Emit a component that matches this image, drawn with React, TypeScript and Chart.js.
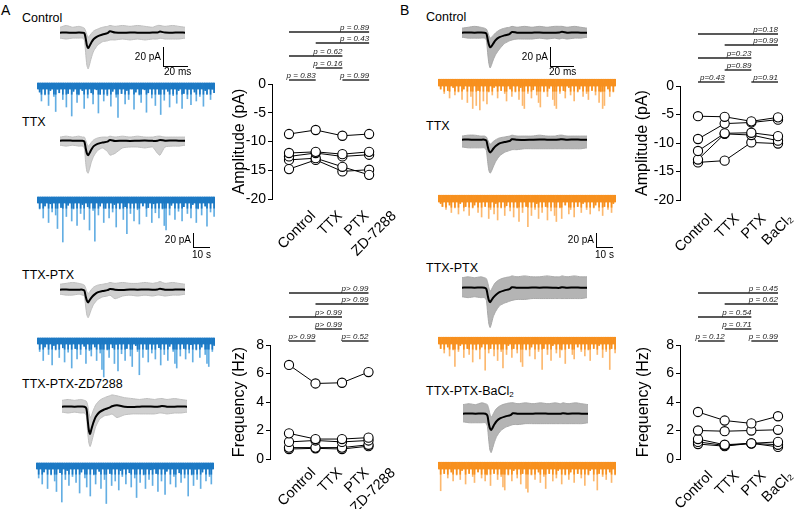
import React, { useEffect, useRef, useState } from "react";
import { Chart, registerables } from "chart.js";

Chart.register(...registerables);

const FONT = "'Liberation Sans', Arial, Helvetica, sans-serif";
Chart.defaults.font.family = FONT;
Chart.defaults.color = "#000";

// ---------------- summary plots data ----------------
const CATS_A = ["Control", "TTX", "PTX", "ZD-7288"];
const CATS_B = ["Control", "TTX", "PTX", "BaCl\u2082"];
const AMP_TICKS = [0, -5, -10, -15, -20];
const FREQ_TICKS = [0, 2, 4, 6, 8];

const AMP_A_CELLS = [
  [-8.7, -8.0, -9.0, -8.7],
  [-12.0, -11.8, -12.2, -11.8],
  [-12.6, -12.0, -12.6, -12.3],
  [-13.2, -12.9, -14.4, -15.8],
  [-14.8, -13.2, -15.2, -14.9],
];
const FREQ_A_CELLS = [
  [6.6, 5.3, 5.35, 6.1],
  [1.8, 1.4, 1.4, 1.5],
  [1.2, 1.3, 1.2, 1.3],
  [0.8, 0.8, 0.8, 1.0],
  [0.7, 0.75, 0.7, 0.9],
];
const AMP_B_CELLS = [
  [-5.3, -5.4, -6.2, -5.5],
  [-9.3, -6.6, -6.4, -5.9],
  [-11.4, -8.3, -8.2, -8.8],
  [-12.9, -8.4, -8.6, -9.6],
  [-13.4, -13.1, -9.9, -10.1],
];
const FREQ_B_CELLS = [
  [3.3, 2.7, 2.5, 3.0],
  [2.0, 1.95, 2.0, 2.05],
  [1.4, 1.0, 1.1, 1.2],
  [1.2, 0.95, 1.1, 1.0],
  [1.05, 0.9, 1.1, 0.85],
];

const BRACKET_PAIRS = [[0, 3], [1, 3], [0, 2], [1, 2], [0, 1], [2, 3]];
const P_AMP_A = ["p = 0.89", "p = 0.43", "p = 0.62", "p = 0.16", "p = 0.83", "p = 0.99"];
const P_FREQ_A = ["p> 0.99", "p> 0.99", "p> 0.99", "p> 0.99", "p> 0.99", "p= 0.52"];
const P_AMP_B = ["p=0.18", "p=0.99", "p=0.23", "p=0.89", "p=0.43", "p=0.91"];
const P_FREQ_B = ["p = 0.45", "p = 0.62", "p = 0.54", "p = 0.71", "p = 0.12", "p = 0.99"];

// ---------------- averaged sEPSC waveforms (ms, pA) ----------------
const WF_T = [0, 5, 10, 15, 18, 19.5, 20.5, 21.5, 22.5, 23.5, 25, 27, 30, 34, 38, 40, 44, 50, 56, 62, 68, 74, 78, 80, 84, 90, 95, 100];

const WF_A1_MEAN = [0, 0.3, -0.2, 0.2, 0, -0.5, -6, -14, -17, -15, -11, -7, -4, -2, -0.5, 1.5, 0.2, -0.2, 0.3, 0, -0.2, 0.1, 0.2, 1.2, 0.1, 0, 0.2, 0];
const WF_A1_HI = [6, 8, 6, 7, 6, 5, 2, -2, -5, -4, -1, 2, 4, 6, 7, 8, 7, 8, 7, 8, 7, 6, 8, 8, 7, 8, 7, 6];
const WF_A1_LO = [-6, -7, -6, -6, -6, -8, -22, -36, -40, -36, -28, -20, -14, -10, -9, -8, -8, -7, -8, -7, -8, -7, -7, -6, -7, -7, -7, -6];

const WF_A2_MEAN = [0, 0.2, 0, -0.2, 0, -1, -8, -14, -16, -14, -10, -6, -3.5, -2, -1, 0.8, -0.3, 0, -0.3, 0, 0.2, -0.2, 0, 0.8, 0, 0.2, 0, 0];
const WF_A2_HI = [4, 5, 4, 5, 4, 4, 1, -3, -6, -5, -2, 1, 3, 4, 4, 5, 4, 5, 4, 5, 4, 4, 5, 5, 4, 4, 4, 4];
const WF_A2_LO = [-5, -6, -5, -6, -6, -8, -24, -34, -36, -32, -24, -17, -11, -8, -12, -16, -14, -8, -7, -7, -8, -7, -14, -16, -7, -6, -6, -5];

const WF_A3_MEAN = [0, 0.2, -0.2, 0, 0, -1, -7, -12, -14, -12, -9, -6, -3, -1.5, -0.5, 0.8, 0, -0.3, 0.2, 0, 0.2, 0, 0.3, 1, 0, 0, 0.2, 0];
const WF_A3_HI = [6, 7, 8, 7, 6, 5, 2, -2, -4, -3, 0, 3, 5, 6, 7, 8, 7, 8, 7, 7, 8, 7, 8, 9, 7, 8, 7, 6];
const WF_A3_LO = [-5, -6, -6, -5, -6, -7, -18, -28, -31, -28, -22, -16, -11, -8, -7, -6, -10, -7, -6, -7, -6, -7, -6, -6, -7, -6, -6, -5];

const WF_A4_MEAN = [0, 0.3, 0, 0.2, 0, -2, -14, -26, -30, -25, -18, -11, -6, -3, -1, 0.5, 1.5, 0, -0.3, 0, 0.3, 0, 0.2, 0.8, 0, 0, 0.3, 0];
const WF_A4_HI = [7, 8, 7, 8, 7, 6, 2, -6, -12, -10, -4, 2, 7, 10, 12, 13, 12, 10, 9, 8, 9, 8, 9, 9, 8, 9, 8, 7];
const WF_A4_LO = [-6, -7, -6, -7, -7, -10, -28, -40, -44, -40, -32, -22, -14, -10, -9, -8, -12, -9, -8, -8, -8, -8, -7, -7, -8, -7, -7, -6];

const WF_B1_MEAN = [0, 0.2, 0, 0.2, 0, -1, -7, -13, -16, -15, -12, -8, -5, -3, -1.5, 0.8, 0, -0.2, 0, 0.2, -0.2, 0, 0.2, 1, 0, 0.2, 0, 0];
const WF_B1_HI = [5, 6, 7, 6, 5, 4, 1, -3, -6, -5, -3, 0, 3, 5, 6, 7, 6, 7, 6, 7, 6, 7, 7, 7, 6, 7, 6, 5];
const WF_B1_LO = [-5, -6, -6, -6, -6, -8, -22, -34, -39, -36, -30, -24, -18, -12, -9, -8, -7, -7, -7, -6, -7, -6, -7, -6, -7, -6, -6, -5];

const WF_B2_MEAN = [0, 0.2, -0.2, 0, 0, -1, -7, -12, -14, -13, -10, -7, -4, -2.5, -1.5, 0.5, 0, -0.3, 0, 0.2, 0, -0.2, 0.2, 0.6, 0, 0.2, 0, 0];
const WF_B2_HI = [4, 5, 5, 4, 4, 3, 0, -3, -5, -4, -2, 0, 2, 3, 4, 5, 4, 4, 4, 5, 4, 4, 5, 5, 4, 4, 4, 4];
const WF_B2_LO = [-8, -9, -9, -9, -9, -12, -24, -34, -37, -35, -30, -24, -18, -14, -12, -11, -11, -10, -10, -10, -10, -10, -10, -10, -10, -10, -10, -9];

const WF_B3_MEAN = [0, 0.2, 0, 0.2, 0, -1.5, -8, -14, -16, -14, -11, -8, -5, -3, -1.5, 0.5, 0, -0.2, 0.2, 0, 0.2, 0, -0.2, 0.6, 0, 0.2, 0, 0];
const WF_B3_HI = [11, 12, 11, 12, 11, 10, 6, 0, -4, -2, 2, 6, 9, 11, 12, 13, 12, 13, 12, 12, 13, 12, 12, 13, 12, 13, 12, 12];
const WF_B3_LO = [-10, -11, -10, -11, -11, -14, -28, -40, -44, -40, -32, -26, -20, -17, -15, -14, -13, -13, -12, -12, -12, -12, -12, -12, -12, -12, -12, -11];

const WF_B4_MEAN = [0, 0.2, 0, 0.2, 0, -2, -10, -16, -18, -16, -12, -8, -5, -3, -1.5, 0.5, 0, -0.2, 0, 0.2, 0, -0.2, 0, 0.5, 0, 0.2, 0, 0];
const WF_B4_HI = [10, 11, 10, 12, 11, 10, 6, 0, -4, -2, 2, 6, 9, 11, 12, 12, 11, 12, 11, 12, 11, 12, 11, 12, 11, 12, 11, 10];
const WF_B4_LO = [-9, -10, -10, -10, -10, -14, -28, -40, -43, -39, -32, -25, -19, -15, -13, -12, -12, -11, -11, -11, -11, -11, -11, -11, -11, -11, -11, -10];

// ---------------- continuous recordings: event peaks per bin (pA) ----------------
const TR_A1 = [
  -2, -8, -20, -3, -12, -2, -26, -6, -2, -14, -34, -4, -9, -2, -18, -2, -28, -10, -3, -40,
  -7, -2, -22, -12, -2, -6, -30, -3, -16, -2, -9, -24, -2, -5, -36, -11, -2, -20, -4, -13,
  -2, -27, -7, -2, -15, -42, -3, -10, -2, -24, -6, -18, -2, -3, -31, -8, -2, -12, -22, -2,
  -5, -35, -9, -2, -16, -3, -26, -2, -11, -38, -4, -19, -2, -7, -28, -2, -13, -3, -23, -6,
  -2, -30, -10, -2, -17, -4, -25, -2, -8, -20, -3, -14, -2, -27, -6, -11, -2, -18, -4, -9,
];
const TR_A2 = [
  -3, -12, -2, -24, -8, -2, -30, -5, -16, -2, -20, -38, -3, -10, -56, -2, -22, -7, -2, -28,
  -12, -3, -34, -2, -18, -6, -26, -2, -9, -40, -3, -14, -55, -2, -20, -8, -2, -30, -11, -3,
  -24, -2, -16, -6, -36, -2, -12, -3, -26, -9, -45, -2, -18, -4, -28, -2, -13, -32, -3, -8,
  -2, -22, -10, -2, -30, -5, -17, -2, -24, -3, -12, -34, -40, -2, -20, -7, -2, -26, -3, -15,
  -2, -28, -9, -3, -18, -2, -24, -6, -2, -30, -12, -3, -20, -2, -8, -35, -3, -16, -2, -22,
];
const TR_A3 = [
  -2, -14, -3, -26, -8, -2, -18, -2, -32, -6, -12, -2, -22, -3, -9, -28, -2, -15, -4, -36,
  -2, -10, -24, -3, -18, -2, -7, -30, -2, -13, -20, -3, -8, -26, -2, -16, -38, -48, -3, -12,
  -22, -2, -9, -30, -4, -40, -2, -17, -3, -26, -10, -2, -20, -34, -2, -6, -14, -45, -3, -22,
  -2, -11, -28, -2, -16, -4, -24, -2, -9, -32, -3, -18, -2, -26, -7, -2, -14, -30, -36, -3,
  -20, -2, -10, -24, -2, -16, -5, -28, -2, -12, -3, -22, -8, -2, -18, -30, -34, -2, -14, -6,
];
const TR_A4 = [
  -3, -16, -2, -24, -8, -2, -30, -4, -12, -2, -20, -34, -3, -9, -48, -2, -18, -6, -26, -2,
  -14, -3, -22, -2, -36, -8, -2, -16, -28, -3, -40, -2, -12, -24, -2, -7, -30, -3, -18, -50,
  -2, -10, -26, -3, -20, -2, -32, -6, -14, -2, -24, -3, -9, -28, -2, -16, -42, -3, -22, -2,
  -12, -30, -2, -18, -5, -26, -3, -10, -34, -2, -20, -2, -38, -7, -2, -24, -3, -14, -28, -2,
  -9, -22, -2, -16, -3, -40, -2, -12, -26, -4, -18, -2, -30, -8, -2, -20, -3, -14, -24, -2,
];
const TR_B1 = [
  -2, -8, -3, -14, -2, -10, -20, -2, -6, -16, -3, -12, -2, -22, -8, -2, -26, -4, -18, -34,
  -2, -30, -10, -36, -3, -24, -2, -28, -12, -2, -16, -6, -2, -20, -3, -10, -2, -14, -24, -2,
  -8, -18, -3, -12, -2, -22, -6, -30, -34, -2, -14, -3, -20, -9, -2, -16, -26, -32, -3, -12,
  -2, -18, -7, -2, -22, -30, -34, -3, -14, -2, -10, -20, -2, -6, -16, -3, -24, -2, -12, -8,
  -2, -18, -3, -14, -22, -2, -10, -3, -16, -2, -26, -12, -34, -30, -2, -8, -18, -3, -12, -2,
];
const TR_B2 = [
  -2, -6, -10, -2, -14, -3, -8, -18, -2, -12, -3, -20, -6, -2, -16, -10, -2, -22, -3, -12,
  -8, -2, -18, -4, -24, -2, -10, -3, -26, -14, -2, -20, -6, -28, -2, -12, -3, -22, -9, -2,
  -16, -3, -24, -2, -12, -30, -3, -18, -2, -10, -37, -3, -22, -2, -14, -6, -26, -2, -18, -3,
  -10, -28, -2, -16, -3, -22, -30, -2, -12, -26, -3, -8, -2, -20, -14, -2, -24, -3, -10, -2,
  -18, -6, -2, -14, -3, -20, -2, -12, -8, -3, -16, -2, -22, -10, -2, -14, -3, -18, -6, -2,
];
const TR_B3 = [
  -2, -10, -3, -16, -2, -8, -20, -3, -12, -34, -2, -14, -6, -2, -22, -3, -10, -18, -2, -28,
  -4, -12, -2, -24, -8, -3, -39, -2, -16, -10, -2, -20, -3, -26, -2, -14, -36, -3, -18, -6,
  -2, -22, -10, -3, -16, -2, -28, -34, -3, -12, -2, -20, -8, -2, -24, -3, -14, -2, -38, -10,
  -3, -18, -2, -26, -6, -2, -16, -3, -22, -12, -2, -30, -3, -10, -2, -18, -24, -3, -8, -2,
  -14, -3, -20, -2, -12, -26, -3, -10, -2, -18, -6, -3, -22, -2, -14, -3, -38, -10, -2, -16,
];
const TR_B4 = [
  -3, -33, -2, -10, -3, -16, -2, -8, -20, -3, -12, -2, -18, -6, -2, -24, -3, -10, -2, -14,
  -22, -2, -8, -3, -16, -2, -20, -12, -3, -26, -2, -10, -3, -18, -2, -14, -28, -32, -3, -12,
  -2, -20, -6, -3, -16, -2, -24, -10, -3, -30, -35, -2, -12, -3, -18, -2, -8, -22, -3, -14,
  -30, -2, -10, -3, -20, -2, -16, -6, -3, -24, -2, -12, -3, -18, -8, -2, -22, -3, -10, -2,
  -16, -3, -26, -2, -12, -6, -3, -20, -2, -32, -10, -3, -14, -2, -18, -3, -8, -22, -2, -12,
];
const NOISE_A = [4, -4];
const NOISE_B = [5, -4];

// ---------------- plugins ----------------
const BRACKET_LEVELS = [52, 41, 28, 16, 4, 4];
const bracketPlugin = {
  id: "brackets",
  afterDraw(chart: any, _args: any, opts: any) {
    const { ctx, chartArea, scales } = chart;
    const xs = scales.x;
    (opts.texts || []).forEach((t: string, i: number) => {
      const [a, b] = BRACKET_PAIRS[i];
      const y = chartArea.top - BRACKET_LEVELS[i];
      const x0 = xs.getPixelForValue(a);
      const x1 = xs.getPixelForValue(b);
      ctx.save();
      ctx.strokeStyle = "#222";
      ctx.lineWidth = 1.4;
      ctx.beginPath();
      ctx.moveTo(x0, y);
      ctx.lineTo(x1, y);
      ctx.stroke();
      ctx.font = "italic 8px " + FONT;
      ctx.fillStyle = "#222";
      ctx.textAlign = "right";
      ctx.textBaseline = "alphabetic";
      ctx.fillText(t, x1, y - 2.5);
      ctx.restore();
    });
  },
};

function summaryConfig(o: any) {
  const pts = (cell: number[]) => cell.map((v, i) => ({ x: i, y: v }));
  const lines = o.cells.map((c: number[]) => ({
    data: pts(c), borderColor: "#000", borderWidth: 1, pointRadius: 0, order: 2,
  }));
  const dots = o.cells.map((c: number[]) => ({
    data: pts(c), showLine: false, pointRadius: 4.6, pointBackgroundColor: "#fff",
    pointBorderColor: "#000", pointBorderWidth: 1.1, order: 1,
  }));
  return {
    type: "line",
    data: { datasets: [...lines, ...dots] },
    options: {
      animation: false, responsive: false, events: [],
      layout: { padding: { top: o.padTop, right: o.padRight, left: 0, bottom: 0 } },
      plugins: {
        legend: { display: false }, tooltip: { enabled: false },
        brackets: { texts: o.pTexts },
      },
      scales: {
        x: {
          type: "linear", min: o.xMin, max: o.xMax,
          afterBuildTicks: (s: any) => { s.ticks = o.cats.map((_: string, i: number) => ({ value: i })); },
          afterFit: (s: any) => { s.height = o.xHeight; s.paddingLeft = 0; s.paddingRight = 0; },
          grid: { display: false, drawTicks: false }, border: { display: false },
          ticks: { display: false },
        },
        y: {
          min: o.yMin, max: o.yMax,
          afterBuildTicks: (s: any) => { s.ticks = o.yTicks.map((v: number) => ({ value: v })); },
          afterFit: (s: any) => { s.width = o.yWidth; },
          grid: { drawOnChartArea: false, drawTicks: true, tickLength: 4, color: "#000", lineWidth: 1 },
          border: { display: true, color: "#000", width: 1 },
          ticks: { color: "#000", font: { size: 14 }, padding: 2 },
          title: { display: true, text: o.title, color: "#000", font: { size: 16 }, padding: { top: o.titlePad, bottom: 0 } },
        },
      },
    },
    plugins: [bracketPlugin],
  };
}

function traceConfig(depths: number[], band: number[], color: string, bandColor: string) {
  return {
    type: "bar",
    data: {
      labels: depths.map((_, i) => String(i)),
      datasets: [
        { data: depths.map(() => band), backgroundColor: bandColor, categoryPercentage: 1, barPercentage: 1, grouped: false, order: 1, borderWidth: 0 },
        { data: depths.map((v) => Math.max(v, -11)), backgroundColor: bandColor, barThickness: 1, grouped: false, order: 2, borderWidth: 0 },
        { data: depths, backgroundColor: color, barThickness: 1, grouped: false, order: 3, borderWidth: 0 },
      ],
    },
    options: {
      animation: false, responsive: false, events: [],
      layout: { padding: 0 },
      plugins: { legend: { display: false }, tooltip: { enabled: false } },
      scales: { x: { display: false }, y: { display: false, min: -60, max: 12 } },
    },
  };
}

function waveConfig(mean: number[], hi: number[], lo: number[], grey: string, greyLine: string) {
  const pts = (arr: number[]) => arr.map((v, i) => ({ x: WF_T[i], y: v }));
  return {
    type: "line",
    data: {
      datasets: [
        { data: pts(hi), borderColor: greyLine, borderWidth: 1, pointRadius: 0, fill: "+1", backgroundColor: grey, tension: 0.2, order: 3 },
        { data: pts(lo), borderColor: greyLine, borderWidth: 1, pointRadius: 0, fill: false, tension: 0.2, order: 2 },
        { data: pts(mean), borderColor: "#000", borderWidth: 2, pointRadius: 0, fill: false, tension: 0.3, order: 1 },
      ],
    },
    options: {
      animation: false, responsive: false, events: [],
      layout: { padding: 0 },
      plugins: { legend: { display: false }, tooltip: { enabled: false } },
      scales: { x: { type: "linear", display: false, min: 0, max: 100 }, y: { display: false, min: -50, max: 14 } },
    },
  };
}

// Canvas + optional rotated category labels placed with the chart's x scale
function ChartBox({ left, top, width, height, build, xl }: any) {
  const ref = useRef<HTMLCanvasElement>(null);
  const [marks, setMarks] = useState<any[]>([]);
  useEffect(() => {
    const c: any = new Chart(ref.current as HTMLCanvasElement, build());
    if (xl) {
      const xs = c.scales.x;
      const bottom = c.chartArea.bottom;
      setMarks(xl.labels.map((t: string, i: number) => ({ t, x: xs.getPixelForValue(i) + xl.dx, y: bottom + xl.dy })));
    }
    return () => c.destroy();
  }, []);
  return (
    <>
      <canvas ref={ref} width={width} height={height}
        style={{ position: "absolute", left, top, width, height }} />
      {marks.map((m, i) => (
        <div key={i} style={{ position: "absolute", left: left + m.x, top: top + m.y, width: 0, height: 0 }}>
          <div style={{
            position: "absolute", right: 0, top: 0, whiteSpace: "nowrap", fontSize: 14.5, lineHeight: "15px",
            fontFamily: FONT, color: "#000", transform: "rotate(-45deg)", transformOrigin: "100% 0",
          }}>{m.t}</div>
        </div>
      ))}
    </>
  );
}

function Txt({ x, base, size, children, right }: any) {
  const style: any = {
    position: "absolute", top: base - size * 0.85, fontSize: size, lineHeight: size + "px",
    whiteSpace: "nowrap", color: "#000", fontFamily: FONT,
  };
  if (right !== undefined) { style.right = 794 - right; } else { style.left = x; }
  return <div style={style}>{children}</div>;
}

function Line({ x, y, w, h }: any) {
  return <div style={{ position: "absolute", left: x, top: y, width: w, height: h, background: "#000" }} />;
}

const BLUE_BAND = "#1c79c4";
const BLUE = "#63aee3";
const ORANGE_BAND = "#f7901e";
const ORANGE = "#fcb86e";
const GREY_A = "#d0d0d0";
const GREY_A_LINE = "#bfbfbf";
const GREY_B = "#b4b4b4";
const GREY_B_LINE = "#a8a8a8";

export default function App() {
  const waves = [
    { l: 60, t: 20, m: WF_A1_MEAN, h: WF_A1_HI, lo: WF_A1_LO, g: GREY_A, gl: GREY_A_LINE },
    { l: 60, t: 128, m: WF_A2_MEAN, h: WF_A2_HI, lo: WF_A2_LO, g: GREY_A, gl: GREY_A_LINE },
    { l: 60, t: 277, m: WF_A3_MEAN, h: WF_A3_HI, lo: WF_A3_LO, g: GREY_A, gl: GREY_A_LINE },
    { l: 62, t: 394, m: WF_A4_MEAN, h: WF_A4_HI, lo: WF_A4_LO, g: GREY_A, gl: GREY_A_LINE },
    { l: 462, t: 20, m: WF_B1_MEAN, h: WF_B1_HI, lo: WF_B1_LO, g: GREY_B, gl: GREY_B_LINE },
    { l: 462, t: 127, m: WF_B2_MEAN, h: WF_B2_HI, lo: WF_B2_LO, g: GREY_B, gl: GREY_B_LINE },
    { l: 462, t: 275, m: WF_B3_MEAN, h: WF_B3_HI, lo: WF_B3_LO, g: GREY_B, gl: GREY_B_LINE },
    { l: 463, t: 401, m: WF_B4_MEAN, h: WF_B4_HI, lo: WF_B4_LO, g: GREY_B, gl: GREY_B_LINE },
  ];
  const traces = [
    { l: 37, t: 77, d: TR_A1, n: NOISE_A, c: BLUE, b: BLUE_BAND },
    { l: 37, t: 191, d: TR_A2, n: NOISE_A, c: BLUE, b: BLUE_BAND },
    { l: 37, t: 332, d: TR_A3, n: NOISE_A, c: BLUE, b: BLUE_BAND },
    { l: 36, t: 457, d: TR_A4, n: NOISE_A, c: BLUE, b: BLUE_BAND },
    { l: 438, t: 74, d: TR_B1, n: NOISE_B, c: ORANGE, b: ORANGE_BAND },
    { l: 438, t: 190, d: TR_B2, n: NOISE_B, c: ORANGE, b: ORANGE_BAND },
    { l: 438, t: 332, d: TR_B3, n: NOISE_B, c: ORANGE, b: ORANGE_BAND },
    { l: 438, t: 457, d: TR_B4, n: NOISE_B, c: ORANGE, b: ORANGE_BAND },
  ];
  return (
    <div style={{ position: "absolute", left: 0, top: 0, width: 794, height: 509, background: "#fff", overflow: "hidden", fontFamily: FONT }}>
      <Txt x={1} base={15} size={14}>A</Txt>
      <Txt x={400} base={15} size={14}>B</Txt>

      <Txt x={22} base={23} size={12.5}>Control</Txt>
      <Txt x={22} base={127} size={12.5}>TTX</Txt>
      <Txt x={22} base={280} size={12.5}>TTX-PTX</Txt>
      <Txt x={22} base={389} size={12.5}>TTX-PTX-ZD7288</Txt>
      <Txt x={426} base={22} size={12.5}>Control</Txt>
      <Txt x={426} base={131} size={12.5}>TTX</Txt>
      <Txt x={426} base={273} size={12.5}>TTX-PTX</Txt>
      <Txt x={426} base={396} size={12.5}>TTX-PTX-BaCl<sub style={{ fontSize: 8, verticalAlign: "-2px" }}>2</sub></Txt>

      {traces.map((tr, i) => (
        <ChartBox key={"tr" + i} left={tr.l} top={tr.t} width={178} height={54}
          build={() => traceConfig(tr.d, tr.n, tr.c, tr.b)} />
      ))}
      {waves.map((w, i) => (
        <ChartBox key={"wf" + i} left={w.l} top={w.t} width={125} height={58}
          build={() => waveConfig(w.m, w.h, w.lo, w.g, w.gl)} />
      ))}

      {/* scale bars */}
      <Line x={163} y={47} w={1} h={20} />
      <Line x={163} y={66} w={25} h={1} />
      <Txt right={161} base={60} size={10}>20 pA</Txt>
      <Txt x={164} base={75} size={10}>20 ms</Txt>

      <Line x={550} y={47} w={1} h={20} />
      <Line x={550} y={66} w={24} h={1} />
      <Txt right={548} base={60} size={10}>20 pA</Txt>
      <Txt x={549} base={75} size={10}>20 ms</Txt>

      <Line x={193} y={233} w={1} h={15} />
      <Line x={193} y={247} w={17} h={1} />
      <Txt right={191} base={243} size={10}>20 pA</Txt>
      <Txt x={192} base={258} size={10}>10 s</Txt>

      <Line x={596} y={233} w={1} h={15} />
      <Line x={596} y={247} w={17} h={1} />
      <Txt right={594} base={243} size={10}>20 pA</Txt>
      <Txt x={595} base={258} size={10}>10 s</Txt>

      <ChartBox left={222} top={0} width={178} height={260} xl={{ labels: CATS_A, dx: 19, dy: 9 }} build={() => summaryConfig({
        cells: AMP_A_CELLS, cats: CATS_A, yTicks: AMP_TICKS, yMin: -20, yMax: 0, title: "Amplitude (pA)",
        pTexts: P_AMP_A, padTop: 84, padRight: 20, yWidth: 50, xHeight: 61, xMin: -0.637, xMax: 3.408,
        titlePad: 8.4,
      })} />
      <ChartBox left={222} top={260} width={178} height={249} xl={{ labels: CATS_A, dx: 19, dy: 6 }} build={() => summaryConfig({
        cells: FREQ_A_CELLS, cats: CATS_A, yTicks: FREQ_TICKS, yMin: 0, yMax: 8, title: "Frequency (Hz)",
        pTexts: P_FREQ_A, padTop: 85, padRight: 20, yWidth: 48, xHeight: 50, xMin: -0.717, xMax: 3.434,
        titlePad: 8.4,
      })} />
      <ChartBox left={630} top={0} width={164} height={260} xl={{ labels: CATS_B, dx: 7, dy: 11 }} build={() => summaryConfig({
        cells: AMP_B_CELLS, cats: CATS_B, yTicks: AMP_TICKS, yMin: -20, yMax: 0, title: "Amplitude (pA)",
        pTexts: P_AMP_B, padTop: 86, padRight: 8, yWidth: 50, xHeight: 60, xMin: -0.675, xMax: 3.3,
        titlePad: 3.4,
      })} />
      <ChartBox left={630} top={260} width={164} height={249} xl={{ labels: CATS_B, dx: 7, dy: 9 }} build={() => summaryConfig({
        cells: FREQ_B_CELLS, cats: CATS_B, yTicks: FREQ_TICKS, yMin: 0, yMax: 8, title: "Frequency (Hz)",
        pTexts: P_FREQ_B, padTop: 85, padRight: 8, yWidth: 50, xHeight: 50, xMin: -0.675, xMax: 3.3,
        titlePad: 4.4,
      })} />
    </div>
  );
}
